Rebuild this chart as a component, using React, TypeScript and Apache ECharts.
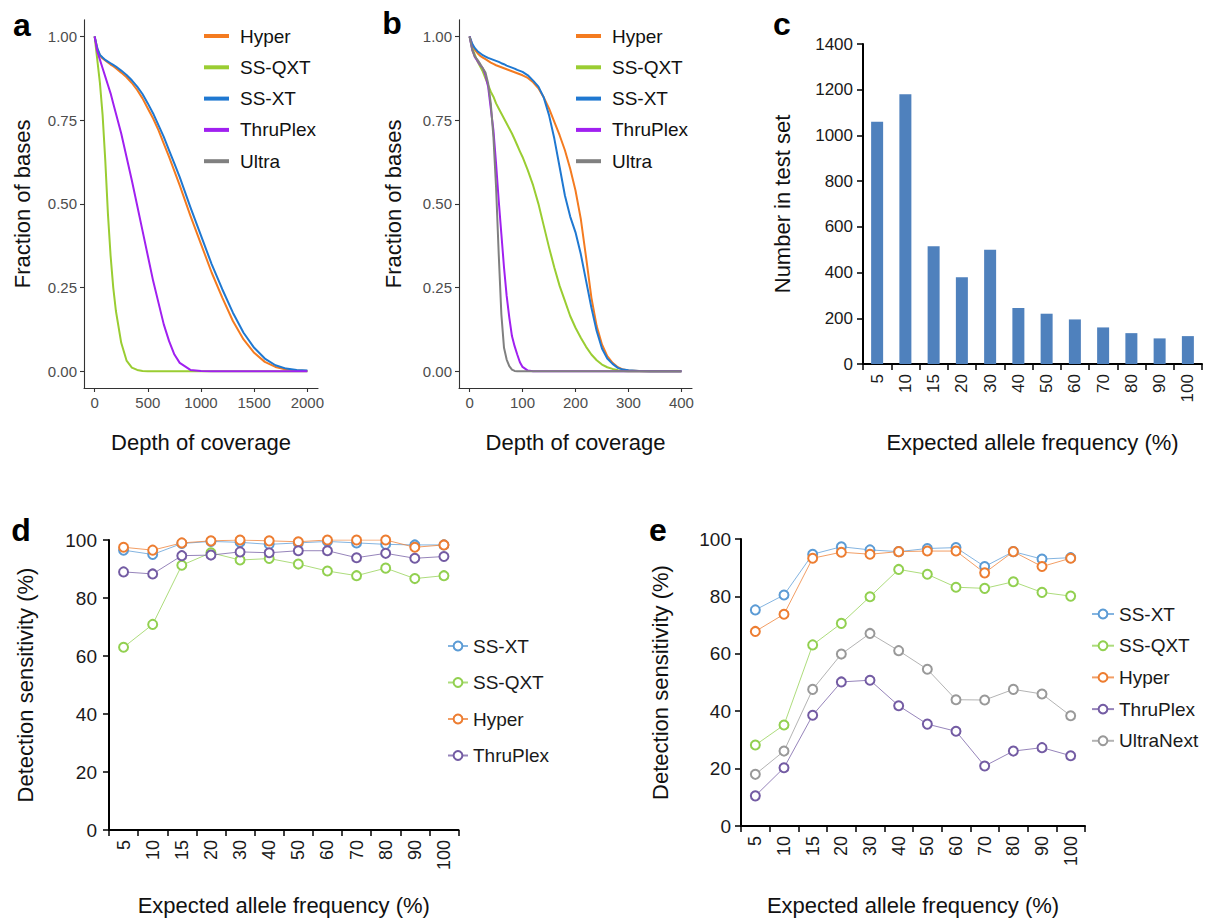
import React, { useEffect, useRef } from "react";
import * as echarts from "echarts";

// ---------- Panel a: depth of coverage (0-2000) ----------
const A_DEPTH = [0, 25, 50, 75, 100, 125, 150, 175, 200, 250, 300, 350, 400, 450, 500, 550, 600, 650, 700, 750, 800, 900, 1000, 1100, 1200, 1300, 1400, 1500, 1600, 1700, 1800, 1900, 2000];
const A_HYPER = [1.0, 0.963, 0.943, 0.934, 0.928, 0.922, 0.916, 0.911, 0.905, 0.892, 0.878, 0.861, 0.84, 0.815, 0.785, 0.755, 0.72, 0.68, 0.64, 0.598, 0.555, 0.465, 0.38, 0.295, 0.22, 0.15, 0.095, 0.055, 0.028, 0.013, 0.005, 0.002, 0.001];
const A_SSQXT = [1.0, 0.93, 0.86, 0.765, 0.63, 0.47, 0.345, 0.25, 0.18, 0.085, 0.032, 0.011, 0.004, 0.001, 0, 0, 0, 0, 0, 0, 0, 0, 0, 0, 0, 0, 0, 0, 0, 0, 0, 0, 0];
const A_SSXT = [1.0, 0.965, 0.945, 0.937, 0.93, 0.925, 0.92, 0.915, 0.91, 0.898, 0.885, 0.869, 0.85, 0.828, 0.8, 0.77, 0.735, 0.7, 0.66, 0.62, 0.58, 0.49, 0.405, 0.32, 0.245, 0.175, 0.115, 0.07, 0.038, 0.018, 0.008, 0.004, 0.002];
const A_THRUPLEX = [1.0, 0.955, 0.93, 0.905, 0.88, 0.855, 0.83, 0.8, 0.77, 0.71, 0.64, 0.57, 0.495, 0.42, 0.345, 0.27, 0.205, 0.14, 0.09, 0.05, 0.025, 0.004, 0.001, 0, 0, 0, 0, 0, 0, 0, 0, 0, 0];
const A_ULTRA: number[] = [];
const A_TICKS = [0, 500, 1000, 1500, 2000];

// ---------- Panel b: depth of coverage (0-400) ----------
const B_DEPTH = [0, 5, 10, 15, 20, 25, 30, 35, 40, 45, 50, 55, 60, 65, 70, 75, 80, 85, 90, 95, 100, 110, 120, 130, 140, 150, 160, 170, 180, 190, 200, 210, 220, 230, 240, 250, 260, 270, 280, 290, 300, 320, 340, 360, 380, 400];
const B_HYPER = [1, 0.975, 0.96, 0.95, 0.942, 0.937, 0.932, 0.927, 0.922, 0.918, 0.914, 0.911, 0.908, 0.905, 0.902, 0.899, 0.896, 0.893, 0.89, 0.887, 0.884, 0.876, 0.863, 0.845, 0.818, 0.785, 0.745, 0.705, 0.66, 0.605, 0.54, 0.455, 0.34, 0.22, 0.135, 0.08, 0.045, 0.025, 0.012, 0.005, 0.002, 0.0005, 0, 0, 0, 0];
const B_SSQXT = [1, 0.965, 0.945, 0.925, 0.91, 0.895, 0.875, 0.855, 0.835, 0.82, 0.8, 0.785, 0.77, 0.755, 0.74, 0.725, 0.71, 0.693, 0.675, 0.657, 0.64, 0.6, 0.555, 0.5, 0.435, 0.37, 0.31, 0.255, 0.21, 0.165, 0.13, 0.1, 0.073, 0.05, 0.033, 0.02, 0.012, 0.007, 0.003, 0.001, 0, 0, 0, 0, 0, 0];
const B_SSXT = [1, 0.978, 0.965, 0.956, 0.95, 0.944, 0.94, 0.936, 0.933, 0.93, 0.927, 0.924, 0.92, 0.917, 0.913, 0.91, 0.907, 0.904, 0.9, 0.897, 0.894, 0.884, 0.868, 0.85, 0.818, 0.765, 0.695, 0.61, 0.525, 0.462, 0.415, 0.35, 0.27, 0.19, 0.12, 0.068, 0.038, 0.022, 0.01, 0.005, 0.003, 0.001, 0, 0, 0, 0];
const B_THRUPLEX = [1, 0.96, 0.938, 0.927, 0.915, 0.905, 0.885, 0.85, 0.785, 0.72, 0.62, 0.51, 0.41, 0.31, 0.225, 0.16, 0.105, 0.075, 0.05, 0.027, 0.013, 0.002, 0, 0, 0, 0, 0, 0, 0, 0, 0, 0, 0, 0, 0, 0, 0, 0, 0, 0, 0, 0, 0, 0, 0, 0];
const B_ULTRA = [1, 0.96, 0.94, 0.93, 0.918, 0.905, 0.892, 0.86, 0.8, 0.7, 0.55, 0.35, 0.17, 0.07, 0.035, 0.015, 0.005, 0.001, 0, 0, 0, 0, 0, 0, 0, 0, 0, 0, 0, 0, 0, 0, 0, 0, 0, 0, 0, 0, 0, 0, 0, 0, 0, 0, 0, 0];
const B_TICKS = [0, 100, 200, 300, 400];
const FRACTION_TICKS = [0, 0.25, 0.5, 0.75, 1];

// ---------- Panel c: test set composition ----------
const FREQ_LABELS = ["5", "10", "15", "20", "30", "40", "50", "60", "70", "80", "90", "100"];
const C_COUNT = [1060, 1180, 515, 380, 500, 245, 220, 195, 160, 135, 112, 122];

// ---------- Panel d: detection sensitivity ----------
const D_SSXT = [96.5, 95, 98.8, 99.5, 99.2, 98.5, 99, 99.5, 99, 98.5, 98.3, 98.3];
const D_SSQXT = [63, 70.9, 91.3, 95.6, 93.1, 93.6, 91.7, 89.3, 87.7, 90.3, 86.7, 87.7];
const D_HYPER = [97.5, 96.5, 99, 99.7, 100, 99.7, 99.4, 100, 100, 100, 97.5, 98.3];
const D_THRUPLEX = [89, 88.3, 94.6, 94.8, 95.9, 95.6, 96.3, 96.3, 93.9, 95.4, 93.7, 94.3];

// ---------- Panel e: detection sensitivity ----------
const E_SSXT = [75.3, 80.5, 94.7, 97.3, 96.2, 95.6, 96.7, 97, 90.4, 95.6, 93, 93.5];
const E_SSQXT = [28.2, 35.2, 63.1, 70.6, 79.9, 89.4, 87.7, 83.2, 82.8, 85.1, 81.4, 80.1];
const E_HYPER = [67.8, 73.8, 93.3, 95.4, 94.7, 95.6, 95.8, 95.8, 88.2, 95.6, 90.4, 93.3];
const E_THRUPLEX = [10.5, 20.3, 38.6, 50.2, 50.8, 41.9, 35.5, 33, 20.9, 26.1, 27.3, 24.5];
const E_ULTRANEXT = [18, 26.1, 47.6, 59.9, 67.1, 61.1, 54.6, 44, 43.9, 47.6, 46, 38.4];

const FONT = '"Liberation Sans", Arial, Helvetica, sans-serif';

const CURVE_COLORS: Record<string, string> = {
  Hyper: "#F47B20",
  "SS-QXT": "#9ACD32",
  "SS-XT": "#1F78D1",
  ThruPlex: "#A020F0",
  Ultra: "#808080",
};
const SENS_COLORS: Record<string, string> = {
  "SS-XT": "#5B9BD5",
  "SS-QXT": "#92D050",
  Hyper: "#ED7D31",
  ThruPlex: "#735BA3",
  UltraNext: "#999999",
};

const zip = (xs: number[], ys: number[]) => ys.map((y, i) => [xs[i], y]);
const labelOf = (n: string) => n.split("|")[0];
const plain = (v: number) => String(v);

function curveSeries(name: string, panel: string, idx: number, xs: number[], ys: number[]) {
  const c = CURVE_COLORS[name];
  return {
    type: "line",
    name: name + "|" + panel,
    xAxisIndex: idx,
    yAxisIndex: idx,
    data: zip(xs, ys),
    symbol: "none",
    showSymbol: false,
    smooth: false,
    lineStyle: { width: 2, color: c, join: "round" },
    itemStyle: { color: c },
    silent: true,
  };
}

function sensSeries(name: string, panel: string, idx: number, ys: number[]) {
  const c = SENS_COLORS[name];
  return {
    type: "line",
    name: name + "|" + panel,
    xAxisIndex: idx,
    yAxisIndex: idx,
    data: ys,
    symbol: "emptyCircle",
    symbolSize: 9,
    lineStyle: { width: 1, color: c, opacity: 0.75 },
    itemStyle: { color: c, borderWidth: 1.6 },
    silent: true,
  };
}

function curveXAxis(idx: number, min: number, max: number, ticks: number[]) {
  return {
    gridIndex: idx,
    type: "value",
    min,
    max,
    axisLine: { show: true, onZero: false, lineStyle: { color: "#333", width: 1.1 } },
    axisTick: { show: true, customValues: ticks, length: 4, lineStyle: { color: "#333", width: 1.1 } },
    axisLabel: { customValues: ticks, fontSize: 15, color: "#4d4d4d", margin: 7, fontFamily: FONT, formatter: plain },
    splitLine: { show: false },
    name: "Depth of coverage",
    nameLocation: "middle",
    nameGap: 43,
    nameMoveOverlap: false,
    nameTextStyle: { fontSize: 22, color: "#111", fontFamily: FONT },
  };
}

function curveYAxis(idx: number, gap: number) {
  return {
    gridIndex: idx,
    type: "value",
    min: -0.05,
    max: 1.05,
    axisLine: { show: true, onZero: false, lineStyle: { color: "#333", width: 1.1 } },
    axisTick: { show: true, customValues: FRACTION_TICKS, length: 4, lineStyle: { color: "#333", width: 1.1 } },
    axisLabel: {
      customValues: FRACTION_TICKS,
      fontSize: 15,
      color: "#4d4d4d",
      margin: 7,
      fontFamily: FONT,
      formatter: (v: number) => v.toFixed(2),
    },
    splitLine: { show: false },
    name: "Fraction of bases",
    nameLocation: "middle",
    nameGap: gap,
    nameMoveOverlap: false,
    nameTextStyle: { fontSize: 22, color: "#111", fontFamily: FONT },
  };
}

function catXAxis(idx: number, gap: number, fontSize: number) {
  return {
    gridIndex: idx,
    type: "category",
    data: FREQ_LABELS,
    axisLine: { show: true, lineStyle: { color: "#000", width: 2 } },
    axisTick: { show: true, alignWithLabel: false, length: 6, lineStyle: { color: "#000", width: 1.5 } },
    axisLabel: { interval: 0, rotate: 90, fontSize, color: "#1a1a1a", margin: 10, fontFamily: FONT },
    splitLine: { show: false },
    name: "Expected allele frequency (%)",
    nameLocation: "middle",
    nameGap: gap,
    nameMoveOverlap: false,
    nameTextStyle: { fontSize: 22, color: "#111", fontFamily: FONT },
  };
}

function numYAxis(idx: number, max: number, interval: number, name: string, gap: number, fontSize: number, margin: number) {
  return {
    gridIndex: idx,
    type: "value",
    min: 0,
    max,
    interval,
    axisLine: { show: true, onZero: false, lineStyle: { color: "#000", width: 2 } },
    axisTick: { show: true, length: 6, lineStyle: { color: "#000", width: 1.5 } },
    axisLabel: { fontSize, color: "#1a1a1a", margin, fontFamily: FONT, formatter: plain },
    splitLine: { show: false },
    name,
    nameLocation: "middle",
    nameGap: gap,
    nameMoveOverlap: false,
    nameTextStyle: { fontSize: 22, color: "#111", fontFamily: FONT },
  };
}

const CURVE_NAMES = ["Hyper", "SS-QXT", "SS-XT", "ThruPlex", "Ultra"];

function curveLegend(panel: string, left: number) {
  return {
    orient: "vertical",
    left,
    top: 26.5,
    padding: 0,
    itemGap: 12.3,
    itemWidth: 25,
    itemHeight: 4,
    icon: "rect",
    selectedMode: false,
    data: CURVE_NAMES.map((n) => n + "|" + panel),
    formatter: labelOf,
    textStyle: { fontSize: 19, color: "#111", fontFamily: FONT, padding: [0, 0, 0, 6] },
  };
}

function sensLegend(names: string[], panel: string, left: number, top: number, gap: number, width: number) {
  return {
    orient: "vertical",
    left,
    top,
    padding: 0,
    itemGap: gap,
    itemWidth: width,
    itemHeight: 11,
    selectedMode: false,
    data: names.map((n) => n + "|" + panel),
    formatter: labelOf,
    textStyle: { fontSize: 19, color: "#1a1a1a", fontFamily: FONT },
  };
}

function letter(t: string, x: number, y: number) {
  return {
    type: "text",
    x,
    y,
    style: {
      text: t,
      fontSize: 32,
      fontWeight: "bold",
      fontFamily: FONT,
      fill: "#000",
      align: "center",
      verticalAlign: "middle",
    },
  };
}

function buildOption() {
  const grids = [
    { left: 84, top: 19.7, width: 234, height: 368.3 },
    { left: 459, top: 19.7, width: 233, height: 368.3 },
    { left: 863, top: 44, width: 339, height: 320 },
    { left: 109, top: 540, width: 349.5, height: 290 },
    { left: 741, top: 539, width: 344, height: 287 },
  ].map((g) => ({ ...g, containLabel: false, outerBoundsMode: "none" }));

  const series: any[] = [
    curveSeries("Hyper", "a", 0, A_DEPTH, A_HYPER),
    curveSeries("SS-QXT", "a", 0, A_DEPTH, A_SSQXT),
    curveSeries("SS-XT", "a", 0, A_DEPTH, A_SSXT),
    curveSeries("ThruPlex", "a", 0, A_DEPTH, A_THRUPLEX),
    curveSeries("Ultra", "a", 0, A_DEPTH, A_ULTRA),
    curveSeries("Hyper", "b", 1, B_DEPTH, B_HYPER),
    curveSeries("SS-QXT", "b", 1, B_DEPTH, B_SSQXT),
    curveSeries("SS-XT", "b", 1, B_DEPTH, B_SSXT),
    curveSeries("ThruPlex", "b", 1, B_DEPTH, B_THRUPLEX),
    curveSeries("Ultra", "b", 1, B_DEPTH, B_ULTRA),
    {
      type: "bar",
      name: "Number in test set",
      xAxisIndex: 2,
      yAxisIndex: 2,
      data: C_COUNT,
      barWidth: 12,
      itemStyle: { color: "#4F81BD" },
      silent: true,
    },
    sensSeries("SS-XT", "d", 3, D_SSXT),
    sensSeries("SS-QXT", "d", 3, D_SSQXT),
    sensSeries("Hyper", "d", 3, D_HYPER),
    sensSeries("ThruPlex", "d", 3, D_THRUPLEX),
    sensSeries("SS-XT", "e", 4, E_SSXT),
    sensSeries("SS-QXT", "e", 4, E_SSQXT),
    sensSeries("Hyper", "e", 4, E_HYPER),
    sensSeries("ThruPlex", "e", 4, E_THRUPLEX),
    sensSeries("UltraNext", "e", 4, E_ULTRANEXT),
  ];

  return {
    animation: false,
    backgroundColor: "#fff",
    textStyle: { fontFamily: FONT },
    grid: grids,
    xAxis: [
      curveXAxis(0, -100, 2100, A_TICKS),
      curveXAxis(1, -20, 420, B_TICKS),
      catXAxis(2, 67, 17),
      catXAxis(3, 64, 18),
      catXAxis(4, 68, 18),
    ],
    yAxis: [
      curveYAxis(0, 51),
      curveYAxis(1, 55),
      numYAxis(2, 1400, 200, "Number in test set", 70, 17, 10),
      numYAxis(3, 100, 20, "Detection sensitivity (%)", 73, 19, 12),
      numYAxis(4, 100, 20, "Detection sensitivity (%)", 70, 19, 10),
    ],
    legend: [
      curveLegend("a", 204),
      curveLegend("b", 576),
      sensLegend(["SS-XT", "SS-QXT", "Hyper", "ThruPlex"], "d", 447, 636.5, 17.5, 20),
      sensLegend(["SS-XT", "SS-QXT", "Hyper", "ThruPlex", "UltraNext"], "e", 1091, 604.5, 12.7, 22),
    ],
    graphic: [
      letter("a", 22, 25),
      letter("b", 392, 23),
      letter("c", 782, 24),
      letter("d", 21, 530),
      letter("e", 658, 530),
    ],
    series,
  };
}

export default function App() {
  const ref = useRef<HTMLDivElement>(null);
  useEffect(() => {
    if (!ref.current) return;
    const chart = echarts.init(ref.current, null, { renderer: "svg", width: 1209, height: 920 });
    chart.setOption(buildOption() as any);
    return () => {
      chart.dispose();
    };
  }, []);
  return (
    <div
      ref={ref}
      style={{ position: "fixed", left: 0, top: 0, width: 1209, height: 920, background: "#fff" }}
    />
  );
}
